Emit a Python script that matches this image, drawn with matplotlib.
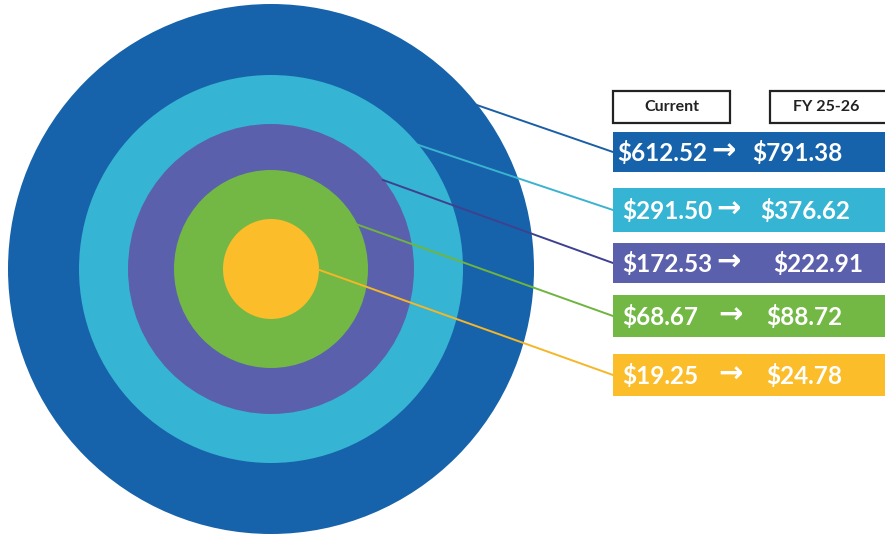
import numpy as np
import matplotlib.pyplot as plt
from matplotlib.patches import Ellipse, Rectangle

# data
tiers = ['Tier 1', 'Tier 2', 'Tier 3', 'Tier 4', 'Tier 5']
current = ['$612.52', '$291.50', '$172.53', '$68.67', '$19.25']
fy_2526 = ['$791.38', '$376.62', '$222.91', '$88.72', '$24.78']
headers = ['Current', 'FY 25-26']

# styling / layout
colors = ['#1663ab', '#36b4d3', '#5b60ad', '#73b844', '#fbbd2a']
line_colors = ['#1a5fa6', '#3ab3d0', '#3f418f', '#6fb43f', '#f5b627']
radii = [263, 192, 143, 97, 48]
anchor_deg = [38.6, 40.4, 38.5, 27.3, -1.0]
box_top = [132, 188, 243, 295, 354]
box_h = [40, 44, 40, 42, 42]
cur_x = [617, 622, 622, 622, 622]
arrow_x = [711, 716, 716, 718, 718]
fy_x = [752, 760, 773, 766, 766]

cx, cy = 271, 269
box_x = 613
font = ['Lato', 'DejaVu Sans']

fig = plt.figure(figsize=(8.85, 5.35), dpi=100)
ax = fig.add_axes([0, 0, 1, 1])
ax.set_xlim(0, 885)
ax.set_ylim(535, 0)
ax.axis('off')

# rings, largest first
for r, c in zip(radii, colors):
    ax.add_patch(Ellipse((cx, cy), 2 * r, 2 * r + 4, color=c, lw=0, zorder=1))

# leader lines + value boxes
for i in range(len(tiers)):
    a = np.deg2rad(anchor_deg[i])
    x0 = cx + radii[i] * np.cos(a)
    y0 = cy - radii[i] * np.sin(a)
    ym = box_top[i] + box_h[i] / 2
    ax.plot([x0, box_x], [y0, ym], color=line_colors[i], lw=1.4, zorder=2)
    ax.add_patch(Rectangle((box_x, box_top[i]), 885 - box_x, box_h[i],
                           color=colors[i], lw=0, zorder=2))
    ax.text(cur_x[i], ym + 1, current[i], color='white',
            fontsize=17.5, fontweight='bold', family=font,
            va='center', ha='left', zorder=3)
    ax.text(arrow_x[i], ym, '\u2192', color='white',
            fontsize=21, fontweight='bold', family='DejaVu Sans',
            va='center', ha='left', zorder=3)
    ax.text(fy_x[i], ym + 1, fy_2526[i], color='white',
            fontsize=17.5, fontweight='bold', family=font,
            va='center', ha='left', zorder=3)

# header boxes
for hx, hw, label in [(613, 117, headers[0]), (770, 118, headers[1])]:
    ax.add_patch(Rectangle((hx, 91), hw, 32, facecolor='white',
                           edgecolor='#222222', lw=1.6, zorder=2))
    ax.text(hx + hw / 2 - (3 if label == headers[1] else 0), 107, label,
            fontsize=11.5, fontweight='bold', family=font,
            ha='center', va='center', color='#222222', zorder=3)

fig.savefig('out.png', dpi=100)
